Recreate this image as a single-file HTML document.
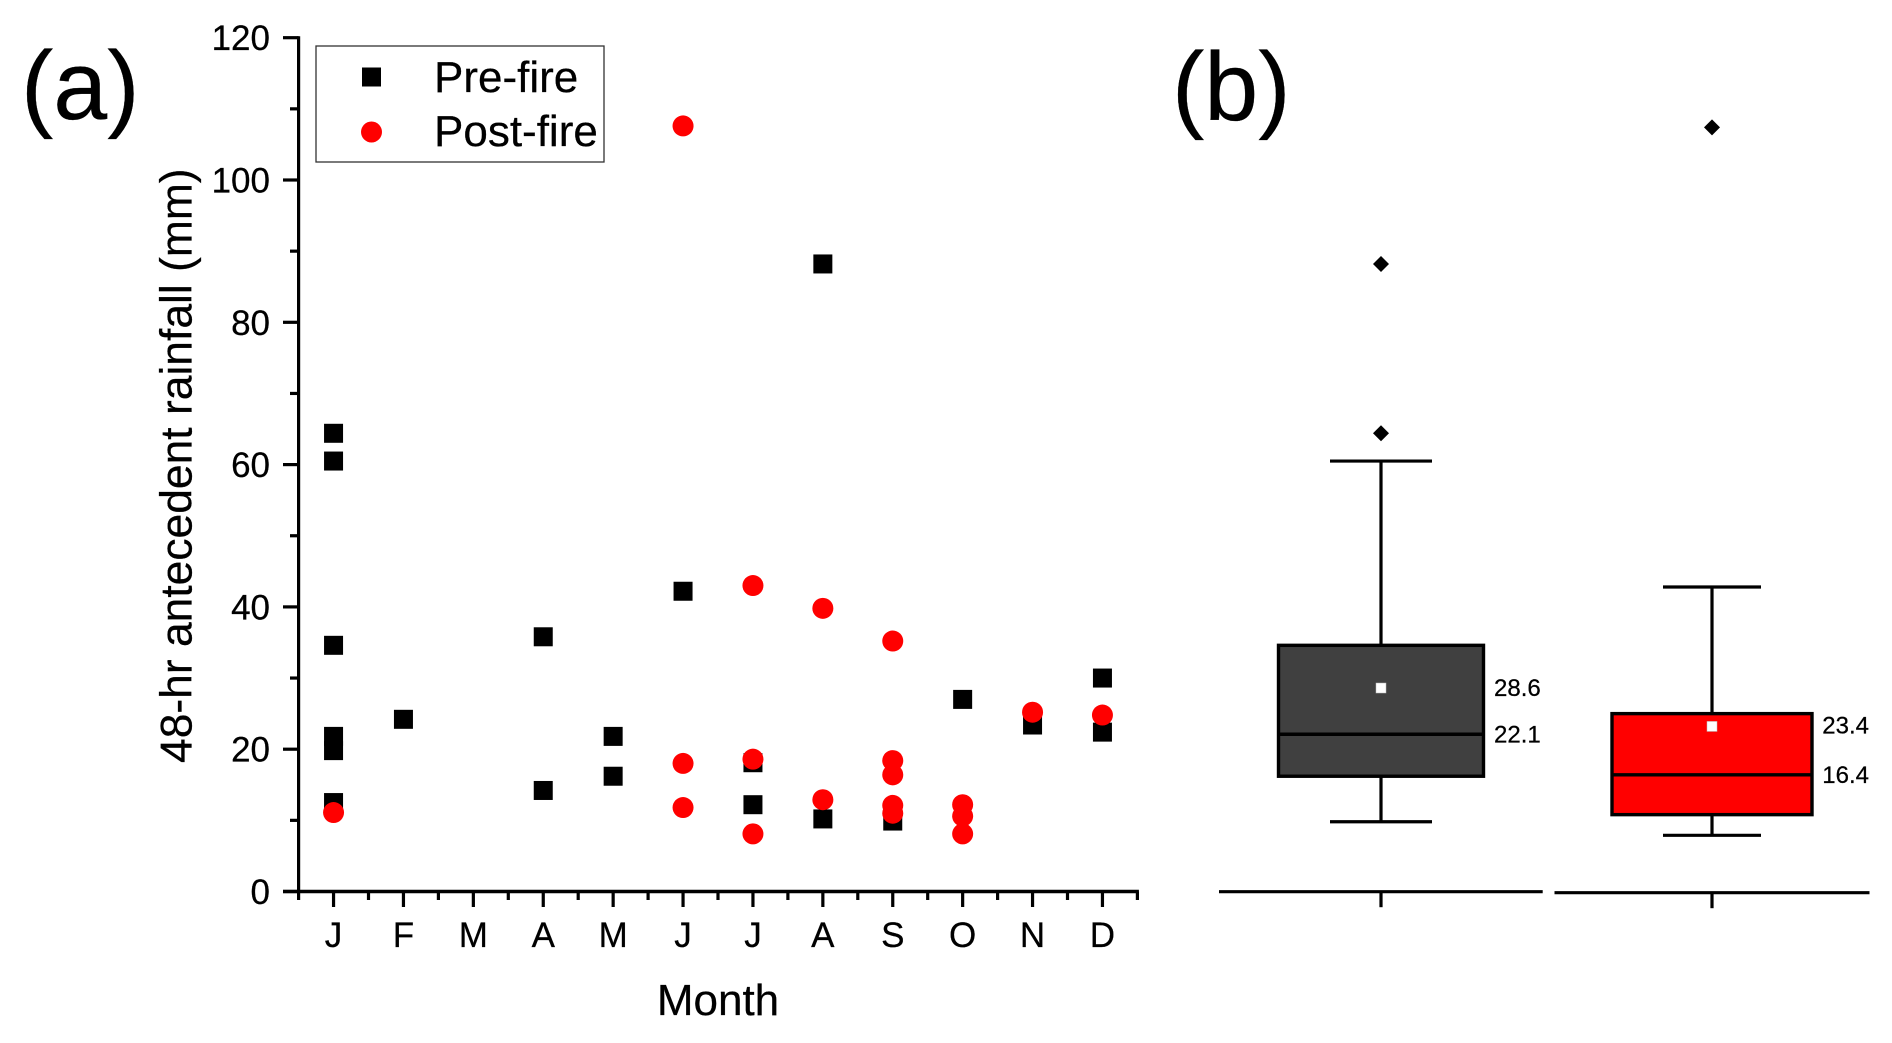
<!DOCTYPE html>
<html lang="en">
<head>
<meta charset="utf-8">
<title>48-hr antecedent rainfall, pre-fire and post-fire</title>
<style>
html,body{margin:0;padding:0;background:#fff;width:1892px;height:1043px;overflow:hidden}
svg{display:block}
text{font-family:"Liberation Sans",Arial,sans-serif;fill:#000;stroke:#000;stroke-width:0.25px}
</style>
</head>
<body>
<svg id="chart" xmlns="http://www.w3.org/2000/svg" width="1892" height="1043" viewBox="0 0 1892 1043">
  <rect x="0" y="0" width="1892" height="1043" fill="#fff"/>
  <text x="21" y="119" font-size="97">(a)</text>
  <text x="1172" y="120" font-size="97">(b)</text>
  <text transform="translate(191.5,763) rotate(-90)" font-size="44.4">48-hr antecedent rainfall (mm)</text>
  <text x="718" y="1015" font-size="44" text-anchor="middle">Month</text>
  <g id="panel-a"></g>
  <g id="panel-b"></g>
  <g>
    <rect x="316" y="46" width="288" height="116" fill="#fff" stroke="#333" stroke-width="1.3"/>
    <rect x="362" y="67.5" width="19" height="19" fill="#000"/>
    <text x="434" y="92" font-size="44">Pre-fire</text>
    <circle cx="371.5" cy="132" r="10.5" fill="#f00"/>
    <text x="434" y="146" font-size="44">Post-fire</text>
  </g>
</svg>
<script>
// Scatter data: one [month number, rainfall mm] pair per event
const monthLabels = ["J","F","M","A","M","J","J","A","S","O","N","D"];
const yTickLabels = [0,20,40,60,80,100,120];
const yMinorTicks = [10,30,50,70,90,110];
const preFireMonths = [1,1,1,1,1,1,2,4,4,5,5,6,7,7,8,8,9,10,11,12,12];
const preFireValues = [64.4,60.5,34.6,21.8,19.8,12.5,24.2,35.8,14.2,21.8,16.2,42.2,18.1,12.2,88.2,10.2,9.9,27.0,23.4,30.0,22.4];
const postFireMonths = [1,6,6,6,7,7,7,8,8,9,9,9,9,9,10,10,10,11,12];
const postFireValues = [11.1,107.6,18.0,11.8,43.0,18.6,8.1,39.8,12.9,35.2,18.4,16.4,12.1,11.0,12.2,10.6,8.1,25.2,24.8];

// Box plot statistics, in mm
const boxNames = ["pre-fire","post-fire"];
const boxQ1 = [16.2,10.8];
const boxMedian = [22.1,16.4];
const boxQ3 = [34.6,25.0];
const boxMean = [28.6,23.2];
const boxMeanLabels = ["28.6","23.4"];
const boxWhiskerLow = [9.8,7.9];
const boxWhiskerHigh = [60.5,42.8];
const boxOutliers = [[64.4,88.2],[107.4]];
const boxFills = ["#404040","#ff0000"];

const NS = "http://www.w3.org/2000/svg";
const panelA = document.getElementById("panel-a");
const panelB = document.getElementById("panel-b");

function yScale(v){ return 891.5 - v * 7.115; }
function xScale(m){ return 298.6 + (m - 0.5) * 69.9; }

function make(parent, tag, attrs, content){
  const el = document.createElementNS(NS, tag);
  for (const k in attrs) el.setAttribute(k, attrs[k]);
  if (content !== undefined) el.textContent = content;
  parent.appendChild(el);
  return el;
}
function hline(parent, x1, x2, y, w){
  return make(parent, "line", {x1:x1, x2:x2, y1:y, y2:y, stroke:"#000", "stroke-width":w});
}
function vline(parent, x, y1, y2, w){
  return make(parent, "line", {x1:x, x2:x, y1:y1, y2:y2, stroke:"#000", "stroke-width":w});
}

// Panel (a): y axis
const yAxisLine = vline(panelA, xScale(0.5), yScale(120) - 1.5, yScale(0) + 1.5, 3.2);


yTickLabels.forEach(function(v){
  const tick = hline(panelA, 283, xScale(0.5), yScale(v), 3.2);
  
  
  const label = make(panelA, "text", {x:270, y:yScale(v) + 12.5, "font-size":35, "text-anchor":"end"}, String(v));
  
  
});
yMinorTicks.forEach(function(v){
  const tick = hline(panelA, 290, xScale(0.5), yScale(v), 3.2);
  
  
});

// Panel (a): x axis
const xAxisLine = hline(panelA, 283, xScale(12.5) + 1.5, yScale(0), 3.6);


monthLabels.forEach(function(name, i){
  const m = i + 1;
  const tick = vline(panelA, xScale(m), yScale(0), 907, 3.2);
  
  
  const minor = vline(panelA, xScale(m - 0.5), yScale(0), 900, 3.2);
  
  
  const label = make(panelA, "text", {x:xScale(m), y:947, "font-size":35, "text-anchor":"middle"}, name);
  
  
});
const lastMinor = vline(panelA, xScale(12.5), yScale(0), 900, 3.2);



// Panel (a): points
preFireValues.forEach(function(v, i){
  const pt = make(panelA, "rect", {x:xScale(preFireMonths[i]) - 9.5, y:yScale(v) - 9.5, width:19, height:19, fill:"#000"});
  
  
});
postFireValues.forEach(function(v, i){
  const pt = make(panelA, "circle", {cx:xScale(postFireMonths[i]), cy:yScale(v), r:10.5, fill:"#f00"});
  
  
});

// Panel (b): box plots share the y scale of panel (a)
const boxCenters = [1381,1712];
const boxHalfWidths = [102.5,100];
const capHalfWidths = [51,49];
const baseLeft = [1219,1554.5];
const baseRight = [1542.7,1869.5];
const baseY = [891.7,892.7];
const labelAnchors = [1494,1869];
const labelAlign = ["start","end"];

boxNames.forEach(function(name, i){
  const cx = boxCenters[i], hw = boxHalfWidths[i], cap = capHalfWidths[i];

  const base = hline(panelB, baseLeft[i], baseRight[i], baseY[i], 3.2);
  
  
  const baseTick = vline(panelB, cx, baseY[i], baseY[i] + 15.5, 3.2);
  
  

  const whisker = vline(panelB, cx, yScale(boxWhiskerHigh[i]), yScale(boxWhiskerLow[i]), 3.2);
  
  
  const capHigh = hline(panelB, cx - cap, cx + cap, yScale(boxWhiskerHigh[i]), 3.2);
  
  
  const capLow = hline(panelB, cx - cap, cx + cap, yScale(boxWhiskerLow[i]), 3.2);
  
  

  const box = make(panelB, "rect", {x:cx - hw, y:yScale(boxQ3[i]), width:hw * 2, height:yScale(boxQ1[i]) - yScale(boxQ3[i]), fill:boxFills[i], stroke:"#000", "stroke-width":3.4});
  
  
  const median = hline(panelB, cx - hw, cx + hw, yScale(boxMedian[i]), 3.4);
  
  
  const mean = make(panelB, "rect", {x:cx - 5, y:yScale(boxMean[i]) - 5, width:10, height:10, fill:"#fff", stroke:"#bbb", "stroke-width":0.5});
  
  

  boxOutliers[i].forEach(function(v){
    const y = yScale(v);
    const d = make(panelB, "polygon", {points:(cx - 8) + "," + y + " " + cx + "," + (y - 8) + " " + (cx + 8) + "," + y + " " + cx + "," + (y + 8), fill:"#000"});
    
    
  });

  const meanText = make(panelB, "text", {x:labelAnchors[i], y:yScale(boxMean[i]) + (i === 0 ? 8 : 7), "font-size":24, "text-anchor":labelAlign[i]}, boxMeanLabels[i]);
  
  
  const medianText = make(panelB, "text", {x:labelAnchors[i], y:yScale(boxMedian[i]) + 8, "font-size":24, "text-anchor":labelAlign[i]}, boxMedian[i].toFixed(1));
  
  
});
</script>
</body>
</html>
